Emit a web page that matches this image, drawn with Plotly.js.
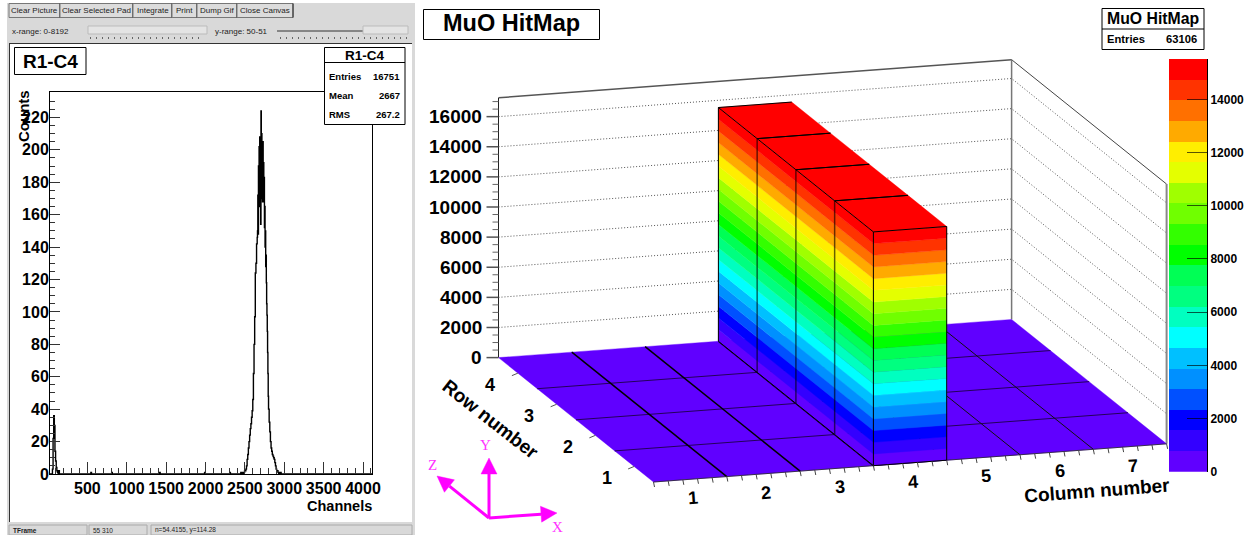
<!DOCTYPE html>
<html>
<head>
<meta charset="utf-8">
<script src="https://cdn.plot.ly/plotly-3.0.1.min.js"></script>
<style>html,body{margin:0;padding:0;background:#fff}#chart{width:1254px;height:535px}</style>
</head>
<body>
<div id="chart"></div>
<script>
// ---------- left panel data: R1-C4 spectrum ----------
const lowChannels = [25,48,56,64,72,80,88,96,104,112,120,128,136,144,152,536,544,552,800,808,816,1408,1416,1424,1980,1988,1996,2300,2308,2316];
const lowCounts   = [0,0,3,22,36,30,14,8,4,2,1,0,2,0,0,0,1,0,0,1,0,0,1,0,0,1,0,0,1,0];
const peakChannels = [2440,2448,2456,2464,2472,2480,2488,2496,2504,2512,2520,2528,2536,2544,2552,2560,2568,2576,2584,2592,2600,2608,2616,2624,2632,2640,2648,2656,
  2660,2664,2668,2672,2676,2680,2684,2688,2692,2696,2700,2704,2708,2712,2716,2720,2724,2728,2732,2736,2740,2744,2748,2752,2756,2760,2764,2768,2772,2776,2780,2784,2788,2792,2796,2800,
  2808,2816,2824,2832,2840,2848,2856,2864,2872,2880,2888,2896,2904,2912,2920,2928,2936,2944,2952,2960,4114];
const peakCounts = [0,1,0,1,0,1,1,2,2,3,5,9,12,16,20,24,28,31,35,39,46,62,80,97,124,130,142,146,
  150,172,148,190,170,202,165,208,172,196,154,224,180,210,170,200,168,205,172,192,168,183,152,165,140,150,128,135,118,105,98,88,75,62,48,40,
  32,26,20,16,14,12,11,10,9,7,5,3,2,2,1,0,1,0,1,0,0];
const histStats = ["16751","2667","267.2"];
const histStatLabels = ["Entries","Mean","RMS"];
const channelTicks = [500,1000,1500,2000,2500,3000,3500,4000];
const channelTickText = ["500","1000","1500","2000","2500","3000","3500","4000"];

// ---------- right panel data: MuO HitMap (rows x columns) ----------
const row1Hits = [0,0,0,15520,0,0,0];
const row2Hits = [0,0,0,15520,0,0,0];
const row3Hits = [0,0,0,15520,0,0,0];
const row4Hits = [0,0,0,15520,0,0,0];
const columnLabels = ["1","2","3","4","5","6","7"];
const rowLabels = ["1","2","3","4"];
const zTicks = [0,2000,4000,6000,8000,10000,12000,14000,16000];
const paletteTicks = [0,2000,4000,6000,8000,10000,12000,14000];
const paletteTickText = ["0","2000","4000","6000","8000","10000","12000","14000"];
const zMax = 15520, nLevels = 20, zTop = 17250;
const palette = ["#6000ff","#3300ff","#0000ff","#0050ff","#0090ff","#00c0ff","#00ffff","#00ffc0","#00ff80","#00ff55",
                 "#00ff00","#33ff00","#70ff00","#a0ff00","#e4ff00","#ffee00","#ffaa00","#ff7000","#ff3300","#ff0000"];

// ---------- pseudo-3D projection of the lego plot onto the page ----------
const O = [653.5,482], CV = [73.3,-5.45], RV = [-38.75,-31.1], ZS = 0.01506;
const P = (c,r,z) => [O[0]+c*CV[0]+r*RV[0], O[1]+c*CV[1]+r*RV[1]-z*ZS];
const hits = [row1Hits,row2Hits,row3Hits,row4Hits];
const nC = columnLabels.length, nR = rowLabels.length;
const traces = [];
const S = {xaxis:'x2',yaxis:'y2',hoverinfo:'skip',showlegend:false};
function line(pts,color,width,dash){
  traces.push({...S,type:'scatter',mode:'lines',x:pts.map(p=>p&&p[0]),y:pts.map(p=>p&&p[1]),line:{color,width,dash:dash||'solid'},connectgaps:false});
}
function poly(polys,color){
  const x=[],y=[];
  polys.forEach(q=>{q.forEach(p=>{x.push(p[0]);y.push(p[1]);});x.push(null);y.push(null);});
  traces.push({...S,type:'scatter',mode:'lines',x,y,fill:'toself',fillcolor:color,line:{color:color,width:0.4}});
}

// left histogram first
traces.push({type:'scatter',mode:'lines',xaxis:'x',yaxis:'y',x:lowChannels.concat(peakChannels),y:lowCounts.concat(peakCounts),
  line:{color:'#000',width:1.4,shape:'hv'},hoverinfo:'skip',showlegend:false});

// walls
const wallGrid=[];
zTicks.slice(1).forEach(z=>{wallGrid.push(P(0,nR,z),P(nC,nR,z),P(nC,0,z),null);});
line(wallGrid,'#555',1,'1px,2px');
line([P(0,nR,zTop),P(nC,nR,zTop)],'#555',1.5);
line([P(nC,nR,zTop),P(nC,0,zTop)],'#444',1);
line([P(nC,nR,0),P(nC,nR,zTop)],'#777',1.5);
line([P(nC,0,0),P(nC,0,zTop)],'#888',2);
line([P(0,nR,0),P(0,nR,zTop)],'#222',1);

// floor
const floorCells=[];
for(let r=0;r<nR;r++)for(let c=0;c<nC;c++)floorCells.push([P(c,r,0),P(c+1,r,0),P(c+1,r+1,0),P(c,r+1,0),P(c,r,0)]);
poly(floorCells,palette[0]);
const rowLines=[];for(let r=1;r<nR;r++)rowLines.push(P(0,r,0),P(nC,r,0),null);
line(rowLines,'#25005a',1);
const colLinesL=[];for(let c=1;c<=3;c++)colLinesL.push(P(c,0,0),P(c,nR,0),null);
line(colLinesL,'#000',1.5);
const colLinesR=[];for(let c=4;c<nC;c++)colLinesR.push(P(c,0,0),P(c,nR,0),null);
line(colLinesR,'#111',1);
line([P(0,0,0),P(nC,0,0)],'#222',0.8);

// bars: per colour band, side faces and front faces
const step = zMax/nLevels;
const sideBands = palette.map(()=>[]), frontBands = palette.map(()=>[]), tops=[];
const barEdges=[], barFaintEdges=[];
for(let r=nR-1;r>=0;r--)for(let c=0;c<nC;c++){
  const h=hits[r][c]; if(h<=0) continue;
  for(let i=0;i<nLevels;i++){
    const a=i*step,b=Math.min((i+1)*step,h); if(a>=h)break;
    sideBands[i].push([P(c,r,a),P(c,r+1,a),P(c,r+1,b),P(c,r,b),P(c,r,a)]);
    if(r===0||hits[r-1][c]<h) frontBands[i].push([P(c,r,a),P(c+1,r,a),P(c+1,r,b),P(c,r,b),P(c,r,a)]);
  }
  tops.push([P(c,r,h),P(c+1,r,h),P(c+1,r+1,h),P(c,r+1,h),P(c,r,h)]);
  barEdges.push(P(c,r,h),P(c+1,r,h),null,P(c,r,h),P(c,r+1,h),P(c+1,r+1,h),null,P(c,r,0),P(c,r+1,0),null);
  if(r>0) barFaintEdges.push(P(c,r,0),P(c,r,h),null);
  else barEdges.push(P(c,r,0),P(c,r,h),null,P(c+1,r,0),P(c+1,r,h),null,P(c,r,0),P(c+1,r,0),null);
  if(r===nR-1) barEdges.push(P(c,r+1,0),P(c,r+1,h),null);
}
palette.forEach((col,i)=>{ if(sideBands[i].length) poly(sideBands[i],col); if(frontBands[i].length) poly(frontBands[i],col); });
poly(tops,palette[nLevels-1]);
line(barFaintEdges,'rgba(0,0,0,0.6)',1.5);
line(barEdges,'#000',1);

// axis ticks along the floor edges
const tickPath=[],minorPath=[];
for(let k=0;k<=nC*5;k++){
  const c=k/5; const pt=P(c,0,0);
  const mid=Math.abs((c%1)-0.5)<1e-6;
  (mid?tickPath:minorPath).push(pt,[pt[0]+(mid?1.6:1),pt[1]+(mid?8:5)],null);
}
line(minorPath,'#444',1);line(tickPath,'#444',1);
const rowTicks=[];
for(let r=0;r<nR;r++){const pt=P(0,r+0.5,0);rowTicks.push(pt,[pt[0]-6,pt[1]+2.5],null);}
line(rowTicks,'#555',1);
const zMaj=[],zMin=[];
for(let z=0;z<=zTop;z+=500){const pt=P(0,nR,z);(z%2000===0?zMaj:zMin).push(pt,[pt[0]-(z%2000===0?12:6),pt[1]],null);}
line(zMin,'#666',1);line(zMaj,'#555',1.5);

// magenta orientation triad
const triO=[489,518];
const triad=[[0,-60],[68,-5],[-52,-42]];
triad.forEach(v=>{
  const Ln=Math.hypot(v[0],v[1]),u=[v[0]/Ln,v[1]/Ln],n=[-u[1],u[0]];
  const tip=[triO[0]+v[0],triO[1]+v[1]],base=[tip[0]-u[0]*16,tip[1]-u[1]*16];
  line([triO,base],'#ff00ff',3);
  poly([[tip,[base[0]+n[0]*8,base[1]+n[1]*8],[base[0]-n[0]*8,base[1]-n[1]*8],tip]],'#ff00ff');
});

// palette column as stacked bars
palette.forEach(col=>{
  traces.push({type:'bar',xaxis:'x3',yaxis:'y3',x:[0],y:[step],width:[1],marker:{color:col,line:{width:0}},hoverinfo:'skip',showlegend:false});
});

// ---------- text and furniture ----------
const W=1254,H=535;
const SANS='"Liberation Sans", Arial, sans-serif';
const ann=[];
function T(x,y,text,size,opts){
  opts=opts||{};
  ann.push({xref:'paper',yref:'paper',x:x/W,y:1-y/H,text,showarrow:false,xanchor:opts.a||'center',yanchor:'middle',textangle:opts.r||0,
    borderpad:0,font:{family:opts.f||SANS,size,color:opts.c||'#000',weight:opts.w===undefined?700:opts.w}});
}
const shp=[];
function R(x0,y0,x1,y1,fill,lc,lw,layer){
  shp.push({type:'rect',xref:'paper',yref:'paper',x0:x0/W,x1:x1/W,y0:1-y0/H,y1:1-y1/H,fillcolor:fill||'rgba(0,0,0,0)',
    line:{color:lc||'#000',width:lw===undefined?1:lw},layer:layer||'above'});
}
function L(x0,y0,x1,y1,lc,lw,layer,dash){
  shp.push({type:'line',xref:'paper',yref:'paper',x0:x0/W,x1:x1/W,y0:1-y0/H,y1:1-y1/H,line:{color:lc||'#000',width:lw||1,dash:dash||'solid'},layer:layer||'above'});
}
// window chrome
R(7,3,415,535,'#d9d9d9','#d9d9d9',0,'below');
R(10,43.5,412,522,'#ffffff','#ffffff',0,'below');
L(9.5,43,9.5,522,'#333',1,'below');L(9.5,43.5,412,43.5,'#333',1,'below');
const btns=[[9,60,"Clear Picture"],[60,133,"Clear Selected Pad"],[133,172,"Integrate"],[172,197,"Print"],[197,237,"Dump Gif"],[237,293,"Close Canvas"]];
btns.forEach(b=>{R(b[0],3.5,b[1],17.5,'#dcdcdc','#777',1,'below');L(b[1],3.5,b[1],17.5,'#222',1,'below');T((b[0]+b[1])/2,10.5,b[2],8,{w:400,c:'#222'});});
T(11,31,"x-range: 0-8192",8,{a:'left',w:400,c:'#222'});
T(214,31,"y-range: 50-51",8,{a:'left',w:400,c:'#222'});
R(88,26,207,34,'#e4e4e4','#bbb',1,'below');
L(277,31,363,31,'#333',1,'below');
R(363,26,408,34,'#e4e4e4','#bbb',1,'below');
L(90,38,204,38,'#666',2,'below','1px,5px');L(280,38,407,38,'#666',2,'below','1px,5px');
R(9,525,87,535,'#d9d9d9','#aaa',1,'below');R(89,525,147,535,'#d9d9d9','#aaa',1,'below');R(151,525,412,535,'#d9d9d9','#aaa',1,'below');
T(12,530,"TFrame",6.5,{a:'left',c:'#222'});T(92,530,"55 310",6.5,{a:'left',c:'#222',w:400});T(154,530,"n=54.4155, y=114.28",6.5,{a:'left',c:'#222',w:400});

// left pad boxes
R(14.5,47.5,86,74.5,'#fff','#000',1);
T(50,61,"R1-C4",19);
R(324.5,47.5,405,124.5,'#fff','#000',1);L(324.5,62.5,405,62.5);
T(365,55.5,"R1-C4",13.5);
histStatLabels.forEach((s,i)=>{T(328,76+19*i,s,9.5,{a:'left'});T(401,76+19*i,histStats[i],9.5,{a:'right'});});
T(24,116,"Counts",15,{r:-90});
T(373,506,"Channels",14.5,{a:'right'});

// right pad boxes
R(423.5,9.5,599.5,39.5,'#fff','#000',1);
T(511,23,"MuO HitMap",23.5);
R(1102,8.5,1204,49.5,'#fff','#000',1);L(1102,29,1204,29);
T(1153,18.5,"MuO HitMap",15.8);
T(1106,38.7,"Entries",11.2,{a:'left'});T(1198,38.7,"63106",11.2,{a:'right'});

// 3-D axis text
zTicks.forEach(z=>{const p=P(0,nR,z);T(483,p[1],String(z),19,{a:'right'});});
columnLabels.forEach((s,i)=>{const p=P(i+0.5,0,0);T(p[0]+3,p[1]+19,s,18,{r:-4});});
rowLabels.forEach((s,i)=>{const p=P(0,i+0.5,0);T(p[0]-27.5,p[1]+11.5,s,18);});
T(1097,490,"Column number",19,{r:-4.3});
T(491,419,"Row number",19,{r:38});
T(485,445,"Y",15,{c:'#ff33ff',f:'"Liberation Serif",serif',w:400});
T(557,527,"X",15,{c:'#ff33ff',f:'"Liberation Serif",serif',w:400});
T(432,465,"Z",15,{c:'#ff33ff',f:'"Liberation Serif",serif',w:400});

const layout={
  width:W,height:H,margin:{l:0,r:0,t:0,b:0},paper_bgcolor:'#fff',plot_bgcolor:'rgba(0,0,0,0)',showlegend:false,barmode:'stack',bargap:0,
  xaxis:{domain:[50/W,372/W],range:[25,4114],anchor:'y',showgrid:false,zeroline:false,showline:true,mirror:true,linecolor:'#000',linewidth:1,
    tickmode:'array',tickvals:channelTicks,ticktext:channelTickText,ticks:'inside',ticklen:12,tickcolor:'#333',tickwidth:1,
    minor:{dtick:100,ticks:'inside',ticklen:6,tickcolor:'#333',tickwidth:1},tickfont:{family:SANS,size:16,color:'#000',weight:700}},
  yaxis:{domain:[1-474/H,1-92.3/H],range:[0,235.5],anchor:'x',showgrid:false,zeroline:false,showline:true,mirror:true,linecolor:'#000',linewidth:1,
    dtick:20,tick0:0,ticks:'inside',ticklen:10,tickcolor:'#333',tickwidth:1,ticklabelstandoff:-3,
    minor:{dtick:5,ticks:'inside',ticklen:5,tickcolor:'#333',tickwidth:1},tickfont:{family:SANS,size:16,color:'#000',weight:700}},
  xaxis2:{domain:[420/W,1],range:[420,W],anchor:'y2',visible:false,fixedrange:true},
  yaxis2:{domain:[0,1],range:[H,0],anchor:'x2',visible:false,fixedrange:true},
  xaxis3:{domain:[1169/W,1207/W],range:[-0.5,0.5],anchor:'y3',visible:false,fixedrange:true},
  yaxis3:{domain:[1-471.7/H,1-59/H],range:[0,zMax],anchor:'x3',side:'right',showgrid:false,zeroline:false,showline:true,linecolor:'#000',linewidth:1,
    tickmode:'array',tickvals:paletteTicks,ticktext:paletteTickText,ticks:'inside',ticklen:20,tickcolor:'rgba(0,0,0,0.65)',tickwidth:1,
    tickfont:{family:SANS,size:12,color:'#000',weight:700}},
  shapes:shp,annotations:ann
};
Plotly.newPlot('chart',traces,layout,{staticPlot:true,displayModeBar:false});
</script>
</body>
</html>
